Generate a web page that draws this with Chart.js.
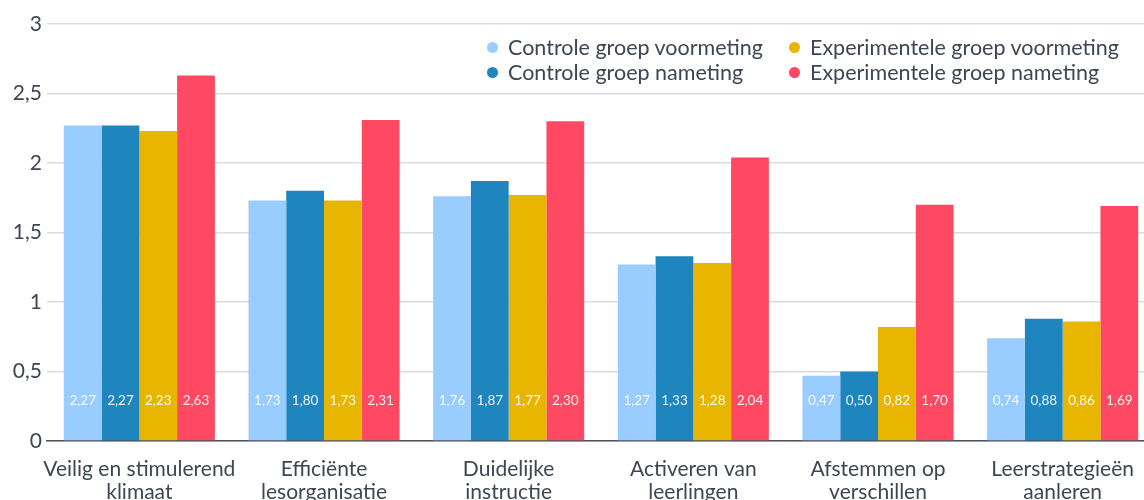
<!DOCTYPE html>
<html>
<head>
<meta charset="utf-8">
<script src="https://cdn.jsdelivr.net/npm/chart.js@4"></script>
<style>
  html, body { margin: 0; padding: 0; background: #fff; overflow: hidden; width: 1144px; height: 500px; }
  #wrap { position: relative; width: 1155px; height: 520px; }
  #legend { position: absolute; left: 487px; top: 36px; display: grid; grid-template-columns: 302px auto; row-gap: 3px;
            font-family: Lato, "Open Sans", sans-serif; font-size: 21.5px; color: #3d4654; line-height: 22px; }
  .item { display: flex; align-items: center; white-space: nowrap; }
  .dot { width: 11px; height: 11px; border-radius: 50%; margin-right: 10px; flex: none; }
</style>
</head>
<body>
<div id="wrap">
  <canvas id="c"></canvas>
  <div id="legend"></div>
</div>
<script>
const categories = [
  ["Veilig en stimulerend", "klimaat"],
  ["Efficiënte", "lesorganisatie"],
  ["Duidelijke", "instructie"],
  ["Activeren van", "leerlingen"],
  ["Afstemmen op", "verschillen"],
  ["Leerstrategieën", "aanleren"]
];
const seriesNames = [
  "Controle groep voormeting",
  "Controle groep nameting",
  "Experimentele groep voormeting",
  "Experimentele groep nameting"
];
const controleVoormeting = [2.27, 1.73, 1.76, 1.27, 0.47, 0.74];
const controleNameting = [2.27, 1.80, 1.87, 1.33, 0.50, 0.88];
const experimenteelVoormeting = [2.23, 1.73, 1.77, 1.28, 0.82, 0.86];
const experimenteelNameting = [2.63, 2.31, 2.30, 2.04, 1.70, 1.69];
const yTicks = [0, 0.5, 1, 1.5, 2, 2.5, 3];

const colors = ["#99ccff", "#1e85bf", "#e8b600", "#ff4862"];
const seriesValues = [controleVoormeting, controleNameting, experimenteelVoormeting, experimenteelNameting];

Chart.defaults.font.family = "Lato, 'Open Sans', sans-serif";
Chart.defaults.color = "#3d4654";

const fmt = v => v.toFixed(2).replace('.', ',');

const barLabels = {
  id: 'barLabels',
  afterDatasetsDraw(chart) {
    const ctx = chart.ctx;
    const base = chart.scales.y.getPixelForValue(0);
    ctx.save();
    ctx.font = "13.5px Lato, 'Open Sans', sans-serif";
    ctx.textAlign = 'center';
    ctx.textBaseline = 'middle';
    ctx.fillStyle = 'rgba(255,255,255,0.92)';
    chart.data.datasets.forEach((ds, i) => {
      const meta = chart.getDatasetMeta(i);
      meta.data.forEach((el, j) => {
        ctx.fillText(fmt(ds.data[j]), el.x, base - 40);
      });
    });
    ctx.restore();
  }
};

const chart = new Chart(document.getElementById('c'), {
  type: 'bar',
  data: {
    labels: categories,
    datasets: seriesValues.map((vals, i) => ({
      label: seriesNames[i],
      data: vals,
      backgroundColor: colors[i],
      borderWidth: 0,
      barPercentage: 1.0,
      categoryPercentage: 0.818
    }))
  },
  options: {
    responsive: true,
    maintainAspectRatio: false,
    animation: false,
    layout: { padding: { top: 24, right: 0, left: 0, bottom: 0 } },
    plugins: { legend: { display: false }, tooltip: { enabled: false } },
    scales: {
      x: {
        grid: { display: false, drawTicks: false },
        border: { display: true, color: '#4a5261', width: 1.5 },
        ticks: { font: { size: 21, lineHeight: 1.1 }, padding: 17, color: '#3d4654', maxRotation: 0, autoSkip: false },
        afterFit(scale) { scale.height = 79; }
      },
      y: {
        min: 0, max: 3,
        afterBuildTicks(scale) { scale.ticks = yTicks.map(v => ({ value: v })); },
        grid: { color: '#d9dce3', lineWidth: 1.5, drawTicks: false },
        border: { display: false },
        ticks: { font: { size: 21 }, padding: 5, color: '#3d4654', callback: v => String(v).replace('.', ',') },
        afterFit(scale) { scale.width = 47; }
      }
    }
  },
  plugins: [barLabels]
});

const legend = document.getElementById('legend');
[0, 2, 1, 3].forEach(i => {
  const item = document.createElement('div');
  item.className = 'item';
  const dot = document.createElement('span');
  dot.className = 'dot';
  dot.style.background = colors[i];
  const txt = document.createElement('span');
  txt.textContent = seriesNames[i];
  item.appendChild(dot);
  item.appendChild(txt);
  legend.appendChild(item);
});
</script>
</body>
</html>
